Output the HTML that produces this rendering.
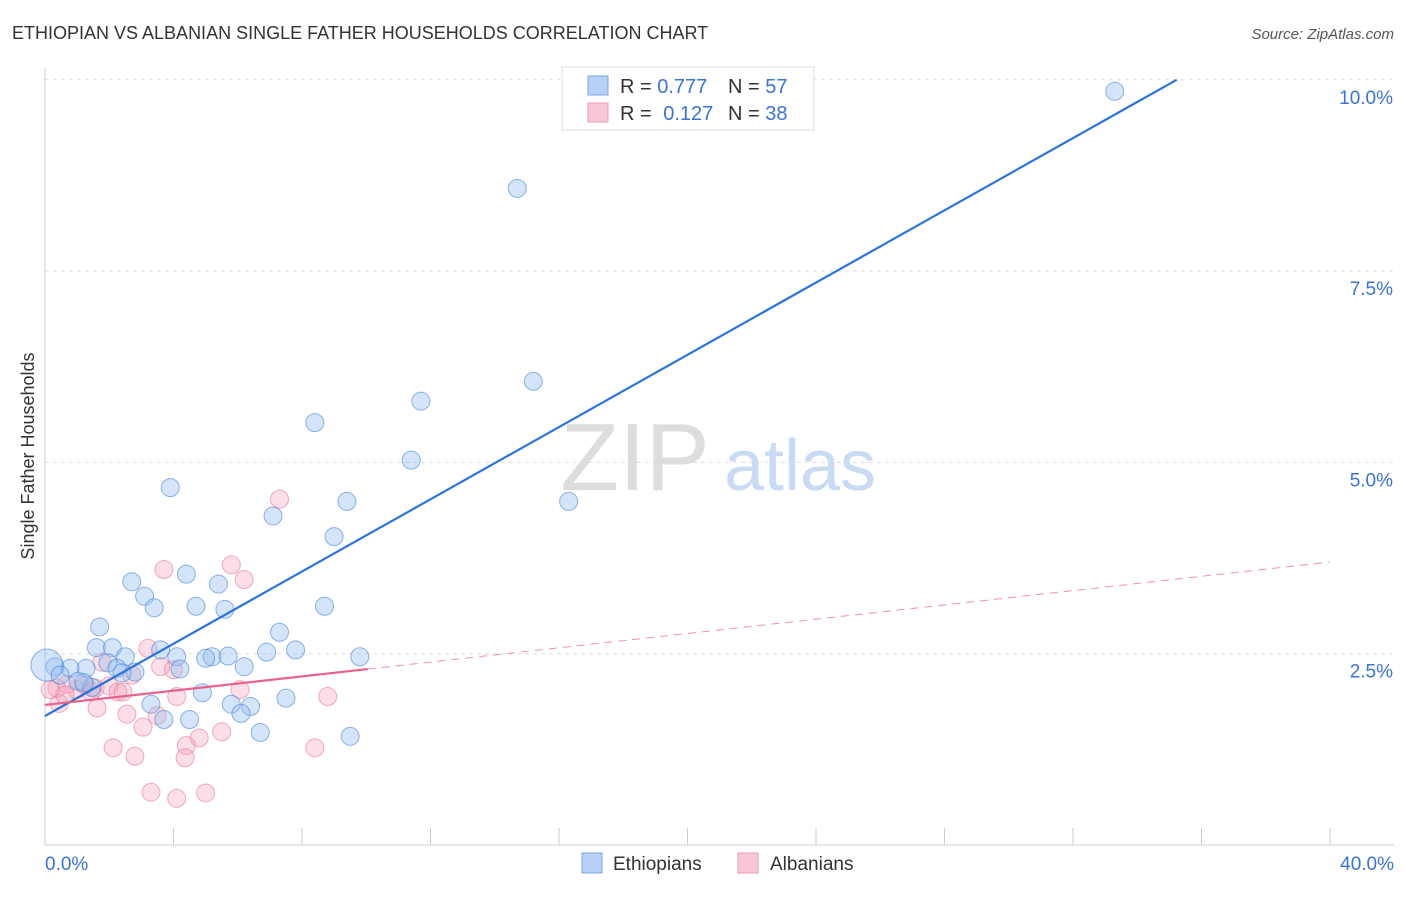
<!DOCTYPE html>
<html><head><meta charset="utf-8"><style>
body{margin:0;background:#fff;font-family:"Liberation Sans",sans-serif;}
svg text{font-family:"Liberation Sans",sans-serif;}
</style></head><body>
<svg id="chart" width="1406" height="892" xmlns="http://www.w3.org/2000/svg">
<text x="12" y="39" font-size="18" fill="#333">ETHIOPIAN VS ALBANIAN SINGLE FATHER HOUSEHOLDS CORRELATION CHART</text>
<text x="1394" y="39" font-size="15" fill="#555" font-style="italic" text-anchor="end">Source: ZipAtlas.com</text>
<text transform="translate(34,456) rotate(-90)" font-size="18" fill="#333" text-anchor="middle">Single Father Households</text>
<g id="grid"></g>
<g><text x="635" y="490" font-size="96" fill="#ddd" font-family="Liberation Serif" text-anchor="middle">ZIP</text><text x="800" y="490" font-size="72" fill="#c9daf3" text-anchor="middle">atlas</text></g>
<line x1="45" y1="68" x2="45" y2="845" stroke="#ccc"/>
<line x1="45" y1="845" x2="1394" y2="845" stroke="#ccc"/>
<g id="ticks"></g>
<g id="pink"></g><g id="blue"></g><g id="lines"></g>
<g>
<rect x="562" y="67" width="252" height="63" fill="#fff" stroke="#ddd"/>
<rect x="588" y="76" width="20" height="19" fill="#b6d1f5" stroke="#7aa6e6"/>
<rect x="588" y="103" width="20" height="19" fill="#f8c8d6" stroke="#ee9ab3"/>
<text x="620" y="93" font-size="20" fill="#333">R = <tspan fill="#3b73d1">0.777</tspan><tspan x="728">N = </tspan><tspan fill="#3b73d1">57</tspan></text>
<text x="620" y="120" font-size="20" fill="#333">R = <tspan fill="#3b73d1" dx="6">0.127</tspan><tspan x="728">N = </tspan><tspan fill="#3b73d1">38</tspan></text>
</g>
<g>
<rect x="582" y="853" width="20" height="20" fill="#b6d1f5" stroke="#7aa6e6"/>
<text x="613" y="870" font-size="19" fill="#333">Ethiopians</text>
<rect x="738" y="853" width="20" height="20" fill="#f8c8d6" stroke="#ee9ab3"/>
<text x="770" y="870" font-size="19" fill="#333">Albanians</text>
</g>
</svg>
<script>
const yTicks=[2.5,5.0,7.5,10.0];
const xTickLabels=["0.0%","40.0%"];
const blueX=[33.3,14.7,15.2,11.7,8.4,11.4,3.9,9.4,16.3,7.1,9.0,2.7,4.4,5.4,3.1,3.4,4.7,5.6,8.7,1.7,7.3,1.6,2.1,3.6,2.5,4.1,5.2,5.7,6.9,7.8,9.8,5.0,1.96,2.24,2.8,4.2,6.2,2.4,1.28,0.78,0.31,0.06,0.47,1.03,1.46,4.9,7.5,3.3,5.8,6.4,6.1,3.7,4.5,6.7,9.5,1.21,0.62];
const blueY=[9.85,8.58,6.06,5.80,5.52,5.03,4.67,4.49,4.49,4.30,4.03,3.44,3.54,3.41,3.25,3.10,3.12,3.08,3.12,2.85,2.78,2.58,2.58,2.55,2.46,2.46,2.46,2.47,2.52,2.55,2.46,2.44,2.38,2.31,2.26,2.30,2.33,2.25,2.31,2.31,2.33,2.35,2.22,2.14,2.06,1.99,1.92,1.84,1.84,1.81,1.72,1.64,1.64,1.47,1.42,2.12,2.24];
const pinkX=[7.3,5.8,3.7,6.2,3.2,3.6,4.0,2.7,1.77,0.37,0.99,1.56,0.68,1.99,2.27,2.43,4.1,8.8,1.62,2.55,0.44,3.05,3.49,4.8,2.12,4.4,2.8,4.36,5.5,8.4,3.3,4.1,5.0,0.16,1.25,6.07,1.43,0.62];
const pinkY=[4.52,3.66,3.60,3.47,2.57,2.33,2.29,2.22,2.39,2.05,2.03,2.05,2.10,2.08,2.00,2.00,1.94,1.94,1.79,1.71,1.85,1.54,1.69,1.40,1.27,1.30,1.16,1.14,1.48,1.27,0.69,0.61,0.68,2.03,2.09,2.03,2.0,1.96];
const blueLine=[1.686,0.236];
const pinkLine=[1.83,0.0467];
const pinkSolidEnd=10.05;
const ns="http://www.w3.org/2000/svg";
const X=v=>45+v/40*1285, Y=v=>845-v/2.5*191.3;
function mk(t,a,p){const e=document.createElementNS(ns,t);for(const k in a)e.setAttribute(k,a[k]);p.appendChild(e);return e;}
const grid=document.getElementById('grid');
yTicks.forEach(t=>{
 const l=mk('line',{x1:45,x2:1394,y1:Y(t),y2:Y(t),stroke:'#ddd','stroke-dasharray':'4,4'},grid);
 
 
 const tx=mk('text',{x:1393,y:Y(t)+24,'font-size':19,fill:'#3b73d1','text-anchor':'end'},grid);
 tx.textContent=t.toFixed(1)+'%';
 
 
});
const tk=document.getElementById('ticks');
for(let i=0;i<=10;i++){const x=X(i*4);const l=mk('line',{x1:x,x2:x,y1:828,y2:845,stroke:'#ccc'},tk);
 
 }
const t0=mk('text',{x:45,y:870,'font-size':19,fill:'#3b73d1'},tk);t0.textContent=xTickLabels[0];


const t1=mk('text',{x:1394,y:870,'font-size':19,fill:'#3b73d1','text-anchor':'end'},tk);t1.textContent=xTickLabels[1];


const pg=document.getElementById('pink');
pinkX.forEach((x,i)=>{const c=mk('circle',{cx:X(x),cy:Y(pinkY[i]),r:9,fill:'rgba(244,160,185,0.35)',stroke:'rgba(232,120,155,0.6)'},pg);
 
 });
const bg=document.getElementById('blue');
blueX.forEach((x,i)=>{const c=mk('circle',{cx:X(x),cy:Y(blueY[i]),r:i==blueX.length-1?0:(i==41?16:9),fill:'rgba(150,190,240,0.4)',stroke:'rgba(70,130,215,0.6)'},bg);
 
 });
const lg=document.getElementById('lines');
const bEnd=(10-blueLine[0])/blueLine[1];
const bl=mk('line',{x1:X(0),y1:Y(blueLine[0]),x2:X(bEnd),y2:Y(10),stroke:'#2b74d9','stroke-width':2.2},lg);


const pl=mk('line',{x1:X(0),y1:Y(pinkLine[0]),x2:X(pinkSolidEnd),y2:Y(pinkLine[0]+pinkLine[1]*pinkSolidEnd),stroke:'#e8638c','stroke-width':2.2},lg);


const pd=mk('line',{x1:X(pinkSolidEnd),y1:Y(pinkLine[0]+pinkLine[1]*pinkSolidEnd),x2:X(40),y2:Y(pinkLine[0]+pinkLine[1]*40),stroke:'#e8638c','stroke-width':1,'stroke-dasharray':'8,6',opacity:0.7},lg);


</script>
</body></html>
